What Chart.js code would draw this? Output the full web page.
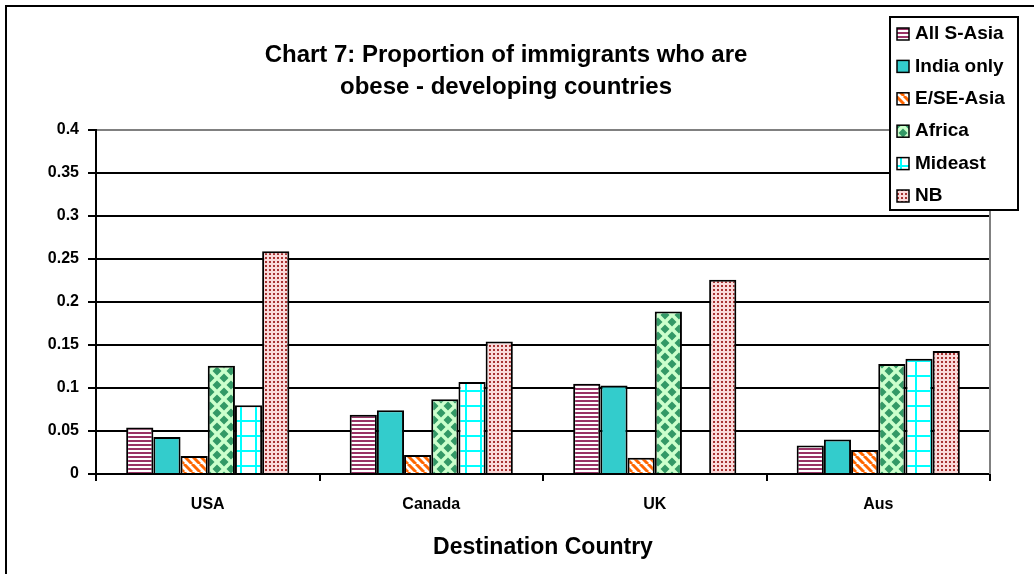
<!DOCTYPE html>
<html>
<head>
<meta charset="utf-8">
<title>Chart 7: Proportion of immigrants who are obese</title>
<script src="https://cdn.jsdelivr.net/npm/chart.js@4.4.1/dist/chart.umd.min.js"></script>
<style>
  html, body { margin: 0; padding: 0; background: #fff; }
</style>
</head>
<body>
<canvas id="chart-obese" width="1034" height="574"></canvas>
<script>
// values
var countries = ["USA", "Canada", "UK", "Aus"];
var seriesNames = ["All S-Asia", "India only", "E/SE-Asia", "Africa", "Mideast", "NB"];
var allSAsia = [0.054, 0.069, 0.105, 0.033];
var indiaOnly = [0.043, 0.074, 0.103, 0.040];
var eseAsia = [0.021, 0.022, 0.019, 0.028];
var africa = [0.126, 0.087, 0.189, 0.128];
var mideast = [0.080, 0.107, null, 0.134];
var nb = [0.259, 0.154, 0.226, 0.143];
var yTicks = [0, 0.05, 0.1, 0.15, 0.2, 0.25, 0.3, 0.35, 0.4];
var titleLines = ["Chart 7: Proportion of immigrants who are", "obese - developing countries"];
var xTitle = "Destination Country";

var FONT = "'Liberation Sans', Arial, sans-serif";
Chart.defaults.font.family = FONT;
Chart.defaults.color = "#000";

// small tile -> canvas pattern (excel style fills)
function makePattern(w, h, draw) {
  var c = document.createElement("canvas");
  c.width = w;
  c.height = h;
  var g = c.getContext("2d");
  draw(g, w, h);
  return g.createPattern(c, "repeat");
}

var stripesH = makePattern(4, 4, function(g, w, h) {
  g.fillStyle = "#fff";
  g.fillRect(0, 0, w, h);
  g.fillStyle = "#993366";
  g.fillRect(0, 0, w, 2);
});

var stripesDiag = makePattern(8, 8, function(g, w, h) {
  g.fillStyle = "#fff";
  g.fillRect(0, 0, w, h);
  g.strokeStyle = "#FF6600";
  g.lineWidth = 3;
  [-8, 0, 8].forEach(function(o) {
    g.beginPath();
    g.moveTo(o, 0);
    g.lineTo(o + 8, 8);
    g.stroke();
  });
});

var diamonds = makePattern(14, 14, function(g, w, h) {
  g.fillStyle = "#CCFFCC";
  g.fillRect(0, 0, w, h);
  g.fillStyle = "#339966";
  var r = 4.5;
  [[7, 7], [0, 0], [14, 0], [0, 14], [14, 14]].forEach(function(p) {
    g.beginPath();
    g.moveTo(p[0], p[1] - r);
    g.lineTo(p[0] + r, p[1]);
    g.lineTo(p[0], p[1] + r);
    g.lineTo(p[0] - r, p[1]);
    g.closePath();
    g.fill();
  });
});

var grid = makePattern(15, 15, function(g, w, h) {
  g.fillStyle = "#fff";
  g.fillRect(0, 0, w, h);
  g.fillStyle = "#00FFFF";
  g.fillRect(0, 0, 2, h);
  g.fillRect(0, 0, w, 2);
});

var dots = makePattern(4, 4, function(g, w, h) {
  g.fillStyle = "#FADADA";
  g.fillRect(0, 0, w, h);
  g.fillStyle = "#A83232";
  g.fillRect(1, 1, 2, 2);
});

// white background + the outer chart frame (top and left edges only are visible)
var frame = {
  id: "frame",
  beforeDraw: function(chart) {
    var ctx = chart.ctx;
    ctx.save();
    ctx.fillStyle = "#fff";
    ctx.fillRect(0, 0, chart.width, chart.height);
    ctx.strokeStyle = "#000";
    ctx.lineWidth = 2;
    ctx.beginPath();
    ctx.moveTo(6, chart.height);
    ctx.lineTo(6, 6);
    ctx.lineTo(chart.width, 6);
    ctx.stroke();
    ctx.restore();
  },
  afterDatasetsDraw: function(chart) {
    var a = chart.chartArea;
    var ctx = chart.ctx;
    ctx.save();
    ctx.strokeStyle = "#808080";
    ctx.lineWidth = 2;
    ctx.beginPath();
    ctx.moveTo(a.right, a.top);
    ctx.lineTo(a.right, a.bottom);
    ctx.stroke();
    ctx.restore();
  }
};

var headline = {
  id: "headline",
  afterDraw: function(chart, args, opts) {
    var ctx = chart.ctx;
    ctx.save();
    ctx.font = "bold 24px " + FONT;
    ctx.fillStyle = "#000";
    ctx.textAlign = "center";
    ctx.textBaseline = "middle";
    opts.lines.forEach(function(t, i) {
      ctx.fillText(t, opts.x, opts.y + i * opts.lineHeight);
    });
    ctx.restore();
  }
};

// legend box sits on top of the plot area in the reference
var boxLegend = {
  id: "boxLegend",
  afterDraw: function(chart, args, opts) {
    var ctx = chart.ctx;
    ctx.save();
    ctx.fillStyle = "#fff";
    ctx.fillRect(opts.x, opts.y, opts.w, opts.h);
    ctx.strokeStyle = "#000";
    ctx.lineWidth = 2;
    ctx.strokeRect(opts.x, opts.y, opts.w, opts.h);
    ctx.font = "bold 19px " + FONT;
    ctx.textBaseline = "middle";
    chart.data.datasets.forEach(function(ds, i) {
      var cy = opts.y + opts.first + i * opts.step;
      ctx.fillStyle = ds.backgroundColor;
      ctx.fillRect(opts.x + 7, cy - 6, 12, 12);
      ctx.lineWidth = 1.5;
      ctx.strokeRect(opts.x + 7, cy - 6, 12, 12);
      ctx.fillStyle = "#000";
      ctx.fillText(ds.label, opts.x + 25, cy);
    });
    ctx.restore();
  }
};

var fills = [stripesH, "#33CCCC", stripesDiag, diamonds, grid, dots];
var values = [allSAsia, indiaOnly, eseAsia, africa, mideast, nb];

var ctx = document.getElementById("chart-obese").getContext("2d");
var chart = new Chart(ctx, {
  type: "bar",
  data: {
    labels: countries,
    datasets: seriesNames.map(function(name, i) {
      return {
        label: name,
        data: values[i],
        backgroundColor: fills[i],
        borderColor: "#000",
        borderWidth: 2,
        categoryPercentage: 0.73,
        barPercentage: 1.0
      };
    })
  },
  plugins: [frame, headline, boxLegend],
  options: {
    responsive: false,
    animation: false,
    devicePixelRatio: 1,
    layout: { padding: { top: 130, right: 44, left: 0, bottom: 0 } },
    plugins: {
      legend: { display: false },
      title: { display: false },
      tooltip: { enabled: false },
      headline: { lines: titleLines, x: 506, y: 55, lineHeight: 32 },
      boxLegend: { x: 890, y: 17, w: 128, h: 193, first: 17, step: 32.4 }
    },
    scales: {
      x: {
        offset: true,
        afterFit: function(s) { s.height = 100; },
        grid: {
          offset: true,
          drawOnChartArea: false,
          drawTicks: true,
          tickLength: 7,
          color: "#000",
          lineWidth: 2
        },
        border: { display: true, color: "#000", width: 2 },
        ticks: { font: { size: 16, weight: "bold" }, color: "#000", padding: 14 },
        title: {
          display: true,
          text: xTitle,
          font: { size: 23, weight: "bold" },
          color: "#000",
          padding: { top: 0, bottom: 13 }
        }
      },
      y: {
        min: 0,
        max: 0.4,
        afterFit: function(s) { s.width = 96; },
        afterBuildTicks: function(s) {
          s.ticks = yTicks.map(function(v) { return { value: v }; });
        },
        grid: {
          color: function(c) { return c.tick && c.tick.value >= 0.4 ? "#808080" : "#000"; },
          tickColor: "#000",
          lineWidth: 2,
          tickLength: 8
        },
        border: { display: true, color: "#000", width: 2 },
        ticks: {
          font: { size: 16, weight: "bold" },
          color: "#000",
          padding: 9,
          callback: function(v) { return String(+Number(v).toFixed(2)); }
        }
      }
    }
  }
});
</script>
</body>
</html>
